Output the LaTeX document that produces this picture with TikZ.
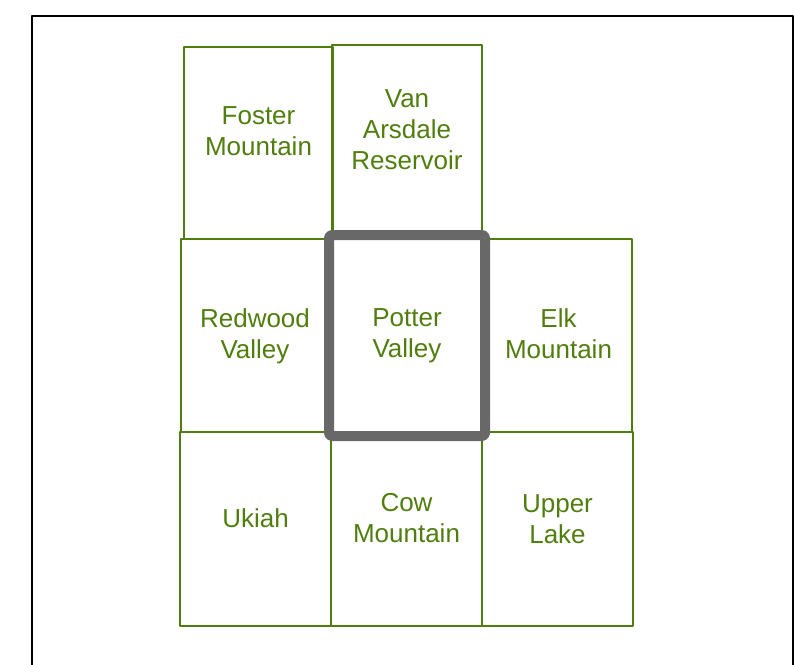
\documentclass[tikz,border=0pt]{standalone}
\usepackage{fontspec}
\setmainfont{Liberation Sans}
\definecolor{quadgreen}{RGB}{80,126,14}
\definecolor{quadgray}{RGB}{104,104,104}
\begin{document}
\begin{tikzpicture}[x=1pt, y=-1pt, line join=round,
    quad/.style={draw=quadgreen, line width=1.2pt, inner sep=0pt},
    focus/.style={draw=quadgray, line width=10pt, rounded corners=3pt, inner sep=0pt},
    lbl/.style={text=quadgreen, align=center, inner sep=0pt, font=\fontsize{26}{31}\selectfont}]
  \useasboundingbox (0,0) rectangle (794,664);
  % outer frame, open at the bottom
  \draw[line width=2pt] (31.5,680) |- (792.5,15.5) -- (792.5,680);
  % neighbouring quadrangles: name/left/top/right/bottom
  \foreach \n/\l/\t/\r/\b in {foster/184/47/333/239, vanarsdale/332/45/482/239,
      redwood/181/239/329/432, elk/485/239/632/432,
      ukiah/180/432/331/626, cow/331/432/482/626, upper/482/432/633/626}
    \node[quad, minimum width={(\r-\l)*1pt}, minimum height={(\b-\t)*1pt}] (\n) at ({(\l+\r)/2},{(\t+\b)/2}) {};
  % the quadrangle itself
  \node[focus, minimum width=156pt, minimum height=201pt] (potter) at (407,335.5) {};
  % names
  \node[lbl] (fosterL) at ([yshift=12pt]foster.center) {Foster\\Mountain};
  \node[lbl] (vanarsdaleL) at ([yshift=12.5pt]vanarsdale.center) {Van\\Arsdale\\Reservoir};
  \node[lbl] (redwoodL) at ([yshift=-0.5pt]redwood.center) {Redwood\\Valley};
  \node[lbl] (potterL) at ([yshift=-0.5pt]potter.center) {Potter\\Valley};
  \node[lbl] (elkL) at ([yshift=2pt]elk.center) {Elk\\Mountain};
  \node[lbl] (ukiahL) at ([yshift=11pt]ukiah.center) {Ukiah};
  \node[lbl] (cowL) at ([yshift=11pt]cow.center) {Cow\\Mountain};
  \node[lbl] (upperL) at ([yshift=10pt]upper.center) {Upper\\Lake};
\end{tikzpicture}
\end{document}
